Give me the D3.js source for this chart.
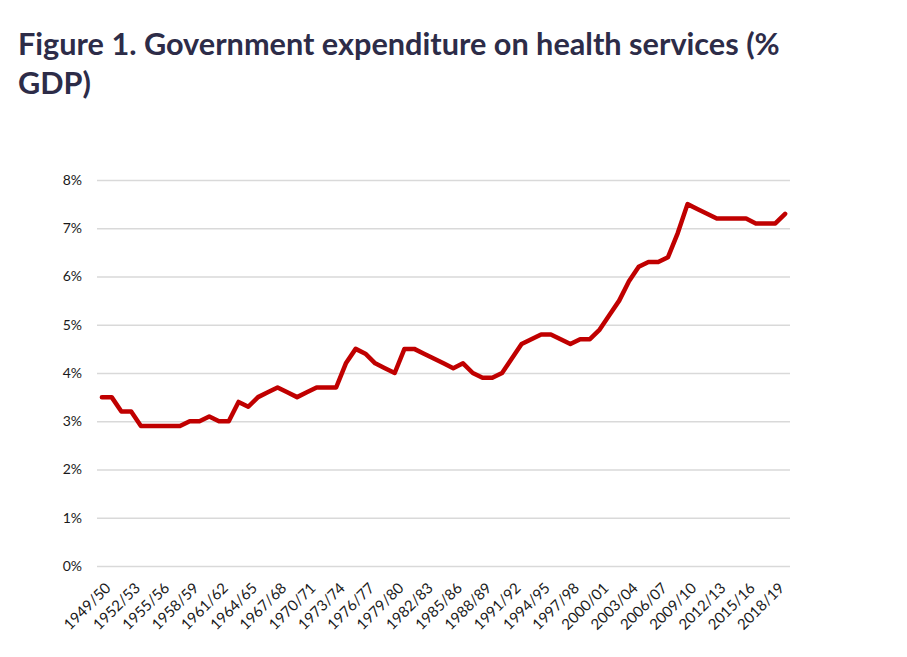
<!DOCTYPE html>
<html>
<head>
<meta charset="utf-8">
<script src="https://cdn.jsdelivr.net/npm/d3@7"></script>
<style>
  body { margin: 0; background: #fff; }
  svg { display: block; }
  .grid line { stroke: #d9d9d9; stroke-width: 1.5; }
  .grid path { display: none; }
  .axis text { font-family: Lato, "Open Sans", sans-serif; fill: #1a1a1a; }
  .axis path, .axis line { display: none; }
  .title { font-family: Lato, "Open Sans", sans-serif; font-weight: bold; fill: #2d2c48; }
</style>
</head>
<body>
<svg id="chart"></svg>
<script>
const WIDTH = 907, HEIGHT = 657

const years = [
  "1949/50","1950/51","1951/52","1952/53","1953/54","1954/55","1955/56","1956/57","1957/58","1958/59",
  "1959/60","1960/61","1961/62","1962/63","1963/64","1964/65","1965/66","1966/67","1967/68","1968/69",
  "1969/70","1970/71","1971/72","1972/73","1973/74","1974/75","1975/76","1976/77","1977/78","1978/79",
  "1979/80","1980/81","1981/82","1982/83","1983/84","1984/85","1985/86","1986/87","1987/88","1988/89",
  "1989/90","1990/91","1991/92","1992/93","1993/94","1994/95","1995/96","1996/97","1997/98","1998/99",
  "1999/00","2000/01","2001/02","2002/03","2003/04","2004/05","2005/06","2006/07","2007/08","2008/09",
  "2009/10","2010/11","2011/12","2012/13","2013/14","2014/15","2015/16","2016/17","2017/18","2018/19",
  "2019/20"
]

// % of GDP
const spending = [
  3.5, 3.5, 3.2, 3.2, 2.9, 2.9, 2.9, 2.9, 2.9, 3.0,
  3.0, 3.1, 3.0, 3.0, 3.4, 3.3, 3.5, 3.6, 3.7, 3.6,
  3.5, 3.6, 3.7, 3.7, 3.7, 4.2, 4.5, 4.4, 4.2, 4.1,
  4.0, 4.5, 4.5, 4.4, 4.3, 4.2, 4.1, 4.2, 4.0, 3.9,
  3.9, 4.0, 4.3, 4.6, 4.7, 4.8, 4.8, 4.7, 4.6, 4.7,
  4.7, 4.9, 5.2, 5.5, 5.9, 6.2, 6.3, 6.3, 6.4, 6.9,
  7.5, 7.4, 7.3, 7.2, 7.2, 7.2, 7.2, 7.1, 7.1, 7.1,
  7.3
]

const tickLabels = [
  "1949/50","1952/53","1955/56","1958/59","1961/62","1964/65","1967/68","1970/71",
  "1973/74","1976/77","1979/80","1982/83","1985/86","1988/89","1991/92","1994/95",
  "1997/98","2000/01","2003/04","2006/07","2009/10","2012/13","2015/16","2018/19"
]

const yTicks = [0, 1, 2, 3, 4, 5, 6, 7, 8]

const titleLines = ["Figure 1. Government expenditure on health services (%", "GDP)"]

const svg = d3.select('#chart').attr('width', WIDTH).attr('height', HEIGHT)

// title
const title = svg.append('text').attr('class', 'title').attr('x', 18).attr('y', 55)
  .style('font-size', '28px')
title.selectAll('tspan')
  .data(titleLines)
  .enter()
  .append('tspan')
  .attr('x', 18)
  .attr('dy', (d, i) => i === 0 ? 0 : 39)
  .text(d => d)
// fit first line to reference width
const firstLen = title.select('tspan').node().getComputedTextLength()
title.style('font-size', (28 * 762 / firstLen) + 'px')

const plotLeft = 97, plotRight = 790, plotTop = 180, plotBottom = 566

const xScale = d3.scaleBand().domain(years).range([plotLeft, plotRight])
const yScale = d3.scaleLinear().domain([0, 8]).range([plotBottom, plotTop])

// grid lines
svg.append('g')
  .attr('class', 'grid')
  .attr('transform', `translate(${plotLeft}, 0)`)
  .call(d3.axisRight(yScale).tickValues(yTicks).tickSize(plotRight - plotLeft).tickFormat(''))

// y axis labels
svg.append('g')
  .attr('class', 'axis')
  .style('font-size', '14px')
  .attr('transform', `translate(${plotLeft}, 0)`)
  .call(d3.axisLeft(yScale).tickValues(yTicks).tickSize(0).tickPadding(15).tickFormat(d => d + '%'))
  .selectAll('text').style('font-size', '14px')

// x axis labels
svg.append('g')
  .attr('class', 'axis')
  .attr('transform', `translate(${xScale.bandwidth() / 2}, ${plotBottom})`)
  .call(d3.axisBottom(xScale).tickValues(tickLabels).tickSize(0).tickPadding(0))
  .selectAll('text')
  .style('font-size', '15px')
  .attr('text-anchor', 'end')
  .attr('dy', 0)
  .attr('transform', 'translate(5, 23) rotate(-45)')

// line
const line = d3.line()
  .x((d, i) => xScale(years[i]) + xScale.bandwidth() / 2)
  .y(d => yScale(d))

svg.append('path')
  .datum(spending)
  .attr('d', line)
  .attr('fill', 'none')
  .attr('stroke', '#c00000')
  .attr('stroke-width', 4.5)
  .attr('stroke-linejoin', 'round')
  .attr('stroke-linecap', 'round')
</script>
</body>
</html>
